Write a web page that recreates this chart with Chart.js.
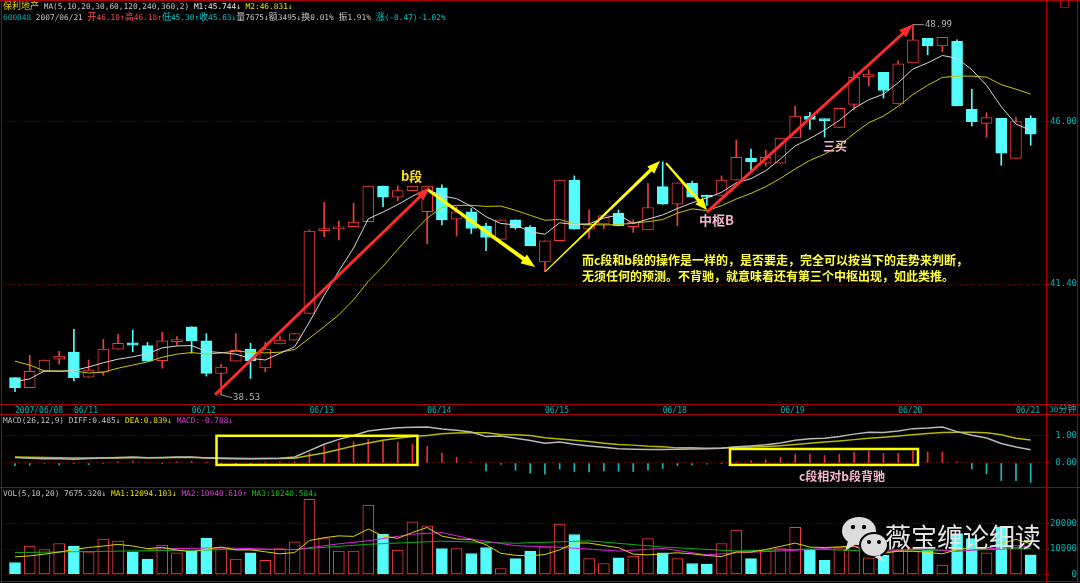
<!DOCTYPE html>
<html>
<head>
<meta charset="utf-8">
<title>保利地产 30分钟</title>
<script src="https://cdn.jsdelivr.net/npm/chart.js@4.4.1/dist/chart.umd.min.js"></script>
<style>
  html, body { margin: 0; padding: 0; background: #000; }
  #wrap { position: relative; width: 1080px; height: 583px; overflow: hidden; background: #000; }
  canvas { position: absolute; left: 0; }
  .hd { position: absolute; left: 3px; font-family: "DejaVu Sans Mono", monospace; font-size: 7.8px; line-height: 11px; white-space: pre; color: #c4c4c4; }
  .hd i { font-style: normal; font-family: "Noto Sans CJK SC", sans-serif; font-size: 9px; }
  .ln { position: absolute; background: #a80000; }
  .note { position: absolute; font-family: "Noto Sans CJK SC", sans-serif; font-weight: 700; white-space: nowrap; }
</style>
</head>
<body>
<div id="wrap">
  <canvas id="mainChart" width="1080" height="414" style="top:0"></canvas>
  <canvas id="macdChart" width="1080" height="73" style="top:414px"></canvas>
  <canvas id="volChart" width="1080" height="96" style="top:487px"></canvas>

  <div class="ln" style="left:0;top:0;width:1080px;height:1px"></div>
  <div class="ln" style="left:1px;top:0;width:1px;height:583px"></div>
  <div class="ln" style="left:0;top:404px;width:1080px;height:1px"></div>
  <div class="ln" style="left:0;top:414px;width:1080px;height:1px"></div>
  <div class="ln" style="left:0;top:487px;width:1080px;height:1px"></div>
  <div class="ln" style="left:0;top:581px;width:1080px;height:1px"></div>
  <div class="ln" style="left:1046px;top:0;width:1px;height:583px"></div>
  <div class="ln" style="left:1077px;top:0;width:1px;height:583px"></div>
  <div style="position:absolute;left:1060px;top:0;width:7px;height:7px;border:1px solid #a80000;border-top:none"></div>

  <div class="hd" style="top:0"><i style="color:#e0d000">保利地产</i> MA(5,10,20,30,60,120,240,360,2) <span style="color:#e8e8e8">M1:45.744↓</span> <span style="color:#e8e000">M2:46.831↓</span></div>
  <div class="hd" style="top:11px"><span style="color:#00a8a8">600048</span> 2007/06/21 <span style="color:#ff4848"><i>开</i>46.10↑<i>高</i>46.18↑</span><span style="color:#00c8c8"><i>低</i>45.30↑<i>收</i>45.63↓</span><i>量</i>7675↓<i>额</i>3495↓<i>换</i>0.01% <i>振</i>1.91% <span style="color:#00c8c8"><i>涨</i>(-0.47)-1.02%</span></div>
  <div class="hd" style="top:415px">MACD(26,12,9) DIFF:0.485↓ <span style="color:#e8e000">DEA:0.839↓</span> <span style="color:#e040e0">MACD:-0.708↓</span></div>
  <div class="hd" style="top:488px">VOL(5,10,20) 7675.320↓ <span style="color:#e8e000">MA1:12094.103↓</span> <span style="color:#e040e0">MA2:10940.610↑</span> <span style="color:#20c020">MA3:10240.584↓</span></div>
  <div class="hd" style="left:1049px;top:404px;line-height:10px;color:#00b4b4">30<i>分钟</i></div>

  <div class="note" style="left:401px;top:169px;font-size:13px;line-height:13px;color:#f8e020">b段</div>
  <div class="note" style="left:699px;top:213px;font-size:13px;line-height:13px;color:#f4b6cc">中枢B</div>
  <div class="note" style="left:823px;top:140px;font-size:12px;line-height:12px;color:#f4b6cc">三买</div>
  <div class="note" style="left:582px;top:254px;font-size:12px;line-height:12px;color:#ffff40">而c段和b段的操作是一样的，是否要走，完全可以按当下的走势来判断，</div>
  <div class="note" style="left:582px;top:270px;font-size:12px;line-height:12px;color:#ffff40">无须任何的预测。不背驰，就意味着还有第三个中枢出现，如此类推。</div>
  <div class="note" style="left:799px;top:470px;font-size:12px;line-height:12px;color:#f4b6cc">c段相对b段背驰</div>

  <svg style="position:absolute;left:840px;top:514px" width="50" height="50">
    <ellipse cx="19" cy="17" rx="17" ry="14" fill="#dcdcdc"/>
    <path d="M8 27 L5 37 L16 30 Z" fill="#dcdcdc"/>
    <circle cx="13" cy="13" r="2.2" fill="#000"/>
    <circle cx="24" cy="13" r="2.2" fill="#000"/>
    <ellipse cx="34" cy="31" rx="14" ry="12" fill="#dcdcdc" stroke="#000" stroke-width="2"/>
    <path d="M40 41 L45 48 L34 43 Z" fill="#dcdcdc"/>
    <circle cx="29" cy="28" r="2" fill="#000"/>
    <circle cx="39" cy="28" r="2" fill="#000"/>
  </svg>
  <div class="note" style="left:885px;top:521px;font-size:26px;line-height:30px;font-weight:400;color:#e6e6e6">薇宝缠论细读</div>
</div>

<script>
// 30-minute bars, 2007/06/08 .. 2007/06/21
const dayTicks = [0, 4, 12, 20, 28, 36, 44, 52, 60, 68];
const dayLabels = ['2007/06/08', '06/11', '06/12', '06/13', '06/14', '06/15', '06/18', '06/19', '06/20', '06/21'];

const opens = [38.96, 38.71, 39.12, 39.43, 39.61, 38.97, 39.10, 39.69, 39.85, 39.78,
  39.39, 39.88, 40.27, 39.90, 39.07, 39.38, 39.69, 39.21, 39.82, 39.92,
  40.62, 42.86, 42.91, 42.97, 43.11, 44.12, 43.80, 43.99, 43.39, 44.07,
  43.18, 43.39, 42.99, 42.62, 43.16, 42.95, 42.00, 42.58, 44.29, 42.90,
  43.05, 43.35, 42.97, 42.88, 44.10, 43.60, 44.20, 43.86, 43.85, 44.29,
  44.92, 44.78, 44.78, 45.52, 46.17, 46.08, 45.83, 46.52, 47.36, 47.50,
  46.53, 47.79, 48.56, 48.32, 48.46, 46.37, 45.95, 46.10, 44.92, 46.10];
const highs = [38.96, 39.53, 39.41, 39.63, 40.20, 39.41, 39.94, 40.07, 40.18, 39.86,
  40.12, 40.01, 40.27, 40.09, 39.30, 40.09, 39.84, 39.86, 40.01, 40.09,
  42.88, 43.65, 43.13, 43.63, 44.12, 44.12, 44.12, 44.12, 44.12, 44.15,
  43.53, 43.48, 43.07, 43.16, 43.16, 43.00, 42.58, 44.29, 44.41, 43.44,
  43.28, 43.44, 43.16, 44.20, 44.82, 44.21, 44.26, 43.86, 44.41, 45.46,
  45.19, 45.16, 45.51, 46.47, 46.28, 46.08, 46.40, 47.52, 47.57, 47.50,
  47.85, 48.99, 48.56, 48.59, 48.51, 46.98, 46.27, 46.10, 46.13, 46.18];
const lows = [38.61, 38.71, 39.12, 39.30, 38.88, 38.97, 39.02, 39.69, 39.62, 39.38,
  39.20, 39.79, 39.58, 39.00, 38.53, 39.38, 38.94, 39.11, 39.82, 39.92,
  40.62, 42.69, 42.60, 42.97, 43.11, 43.53, 43.70, 43.99, 42.49, 43.02,
  42.71, 42.78, 42.31, 42.62, 42.90, 42.44, 41.74, 42.58, 42.90, 42.65,
  42.92, 42.99, 42.81, 42.88, 43.60, 42.99, 43.80, 43.57, 43.85, 44.29,
  44.55, 44.69, 44.78, 45.52, 45.77, 45.54, 45.83, 46.35, 47.08, 46.71,
  46.53, 47.79, 48.04, 48.14, 46.47, 45.87, 45.54, 44.72, 44.92, 45.30];
const closes = [38.71, 39.12, 39.41, 39.51, 38.96, 39.15, 39.69, 39.84, 39.79, 39.38,
  39.90, 39.92, 39.90, 39.07, 39.23, 39.66, 39.39, 39.69, 39.92, 40.09,
  42.85, 42.92, 42.95, 43.10, 44.12, 43.80, 43.99, 44.12, 44.12, 43.16,
  43.39, 42.92, 42.67, 43.16, 42.94, 42.44, 42.58, 44.29, 42.90, 43.02,
  43.28, 42.99, 43.10, 43.51, 43.60, 44.21, 43.80, 43.80, 44.29, 44.95,
  44.82, 44.95, 45.51, 46.17, 46.07, 46.03, 46.40, 47.34, 47.44, 46.94,
  47.76, 48.51, 48.32, 48.59, 46.47, 46.00, 46.12, 45.07, 46.00, 45.63];

const ma5 = [38.86, 38.93, 39.13, 39.12, 39.14, 39.23, 39.34, 39.43, 39.49, 39.57,
  39.72, 39.77, 39.78, 39.63, 39.60, 39.56, 39.45, 39.41, 39.58, 39.75,
  40.39, 41.09, 41.75, 42.38, 43.19, 43.38, 43.59, 43.83, 44.03, 43.84,
  43.76, 43.54, 43.25, 43.06, 43.02, 42.83, 42.76, 43.08, 43.03, 43.05,
  43.21, 43.30, 43.06, 43.18, 43.30, 43.48, 43.64, 43.78, 43.94, 44.21,
  44.33, 44.56, 44.90, 45.28, 45.50, 45.75, 46.04, 46.40, 46.66, 46.83,
  47.18, 47.60, 47.79, 48.02, 47.93, 47.58, 47.10, 46.45, 45.93, 45.74];
const ma10 = [39.38, 39.28, 39.13, 39.13, 39.13, 39.08, 39.10, 39.20, 39.28, 39.36,
  39.48, 39.56, 39.60, 39.56, 39.59, 39.64, 39.61, 39.59, 39.61, 39.68,
  39.97, 40.27, 40.58, 40.98, 41.47, 41.88, 42.34, 42.79, 43.21, 43.51,
  43.57, 43.57, 43.54, 43.55, 43.43, 43.29, 43.15, 43.17, 43.05, 43.03,
  43.02, 43.03, 43.07, 43.11, 43.17, 43.35, 43.47, 43.42, 43.56, 43.75,
  43.91, 44.10, 44.34, 44.61, 44.86, 45.04, 45.30, 45.65, 45.97, 46.17,
  46.46, 46.82, 47.10, 47.34, 47.38, 47.38, 47.35, 47.12, 46.98, 46.83];
const priceTicks = [41.40, 46.00];

const diff = [0.20, 0.17, 0.15, 0.15, 0.14, 0.16, 0.18, 0.20, 0.22, 0.19,
  0.20, 0.22, 0.22, 0.18, 0.16, 0.15, 0.15, 0.16, 0.17, 0.22,
  0.45, 0.68, 0.86, 1.00, 1.16, 1.23, 1.28, 1.30, 1.31, 1.24,
  1.19, 1.13, 0.96, 0.98, 0.90, 0.82, 0.72, 0.76, 0.68, 0.62,
  0.57, 0.52, 0.50, 0.49, 0.49, 0.50, 0.51, 0.52, 0.54, 0.59,
  0.62, 0.66, 0.73, 0.83, 0.88, 0.90, 0.96, 1.05, 1.12, 1.11,
  1.16, 1.25, 1.27, 1.31, 1.14, 1.01, 0.91, 0.71, 0.58, 0.485];
const dea = [0.22, 0.21, 0.20, 0.19, 0.18, 0.18, 0.18, 0.18, 0.19, 0.19,
  0.19, 0.20, 0.20, 0.19, 0.18, 0.17, 0.16, 0.16, 0.16, 0.17,
  0.27, 0.36, 0.49, 0.62, 0.73, 0.83, 0.90, 0.96, 1.00, 1.06,
  1.09, 1.10, 1.10, 1.04, 1.03, 1.00, 0.92, 0.87, 0.83, 0.78,
  0.72, 0.67, 0.65, 0.61, 0.59, 0.55, 0.55, 0.54, 0.545, 0.57,
  0.58, 0.60, 0.63, 0.67, 0.72, 0.76, 0.80, 0.85, 0.90, 0.94,
  0.98, 1.03, 1.07, 1.11, 1.12, 1.12, 1.10, 1.03, 0.90, 0.839];
const macd = [-0.10, -0.08, -0.02, -0.07, -0.02, -0.06, -0.02, 0.05, 0.07, 0.02,
  -0.01, 0.04, 0.06, 0.03, -0.02, -0.03, -0.01, 0.02, 0.03, 0.05,
  0.36, 0.63, 0.74, 0.77, 0.86, 0.80, 0.76, 0.69, 0.61, 0.36,
  0.21, 0.03, -0.29, -0.05, -0.26, -0.37, -0.41, -0.22, -0.31, -0.32,
  -0.29, -0.30, -0.31, -0.25, -0.20, -0.10, -0.07, -0.04, -0.01, 0.04,
  0.09, 0.12, 0.21, 0.32, 0.32, 0.27, 0.32, 0.40, 0.44, 0.34,
  0.36, 0.44, 0.40, 0.40, 0.04, -0.22, -0.39, -0.64, -0.64, -0.708];
const macdTicks = [0, 1];

const volumes = [4700, 11100, 9800, 12150, 11100, 8900, 13850, 13070, 8900, 6000,
  11500, 8500, 9400, 14250, 10200, 6000, 8500, 5600, 10200, 12800,
  29500, 14100, 9150, 9150, 27200, 15800, 9550, 20650, 19100, 10200,
  10200, 8250, 10600, 2350, 6250, 9150, 10850, 19750, 15700, 6250,
  4300, 6550, 7200, 14100, 8500, 6250, 4300, 4050, 12150, 17400,
  6250, 9150, 10200, 18500, 9550, 5600, 10200, 11800, 6550, 7600,
  9500, 10200, 9550, 3650, 16000, 14100, 8500, 18700, 11500, 7675];
const volMa5 = [6900, 7300, 8000, 8800, 9770, 10610, 11160, 11810, 11160, 10140,
  10660, 9590, 8860, 9930, 10770, 9670, 9670, 8910, 8100, 8620,
  13320, 14440, 15150, 14940, 17830, 15080, 14170, 16470, 18460, 15060,
  13940, 13680, 11670, 8320, 7530, 7320, 7840, 9670, 12340, 12340,
  11370, 10510, 8000, 7680, 8130, 8520, 8070, 7440, 7050, 8830,
  8830, 9800, 11030, 12300, 10730, 10600, 10810, 11130, 8740, 8350,
  9130, 9130, 8680, 8100, 9780, 10700, 10360, 12190, 13760, 12094];
const volMa10Idx = [9, 14, 19, 22, 24, 27, 29, 31, 34, 37, 39, 41, 44, 47, 49, 52, 54, 57, 59, 62, 64, 67, 69];
const volMa10 = [9960, 10460, 9700, 12030, 13220, 15810, 16440, 13930, 11300, 10670, 9940, 9180, 10240, 7720, 8480, 9240, 9780, 11080, 9540, 9910, 9070, 10440, 10940];
const volMa20Idx = [0, 5, 10, 14, 19, 24, 29, 34, 39, 44, 49, 54, 59, 64, 69];
const volMa20 = [8600, 9000, 9400, 9700, 9830, 11840, 13070, 12260, 13190, 10770, 9210, 10010, 9010, 9420, 10240];
const volTicks = [0, 10000, 20000];

// annotations, in bar index / value units
const arrows = [
  { from: [13.59, 38.53], to: [28.19, 44.09], color: '#ff2a2a', w0: 3, w1: 3, head: 14, headW: 10 },
  { from: [47.0, 43.38], to: [61.0, 49.0], color: '#ff2a2a', w0: 3, w1: 3, head: 14, headW: 10 },
  { from: [28.06, 44.01], to: [35.33, 41.86], color: '#ffff00', w0: 3, w1: 4, head: 14, headW: 11 },
  { from: [36.0, 41.73], to: [43.82, 44.84], color: '#ffff00', w0: 1, w1: 3.5, head: 13, headW: 10 },
  { from: [44.23, 44.78], to: [47.01, 43.44], color: '#ffff00', w0: 2, w1: 3.5, head: 12, headW: 10 }
];
const extremes = [{ i: 61, value: 48.99, dy: 0 }, { i: 14, value: 38.53, dy: 3 }];
const macdBoxes = [
  { x0: 13.69, x1: 27.34, top: 0.99, bottom: -0.07 },
  { x0: 48.57, x1: 61.34, top: 0.51, bottom: -0.07 }
];

const RED = '#f03c3c';
const CYAN = '#54fcfc';
const AXIS_RED = '#b40000';
const GRID_RED = '#7a0000';
const LABEL_CYAN = '#00b4b4';
const X_MIN = -0.815;
const X_MAX = 70.04;

const idx = closes.map((_, i) => i);
const isUp = idx.map(i => closes[i] >= opens[i]);

function pts(xs, ys) {
  return xs.map((x, k) => ({ x, y: ys[k] }));
}

function hiddenX() {
  return { type: 'linear', min: X_MIN, max: X_MAX, offset: false, display: false };
}

function rightAxis(type, min, max, ticks, fmt) {
  return {
    type, position: 'right', min, max,
    afterBuildTicks: s => { s.ticks = ticks.map(v => ({ value: v })); },
    afterFit: s => { s.width = 31; s.paddingTop = 0; s.paddingBottom = 0; },
    grid: { color: GRID_RED, tickColor: AXIS_RED, tickLength: 3 },
    border: { color: AXIS_RED, dash: [1, 2] },
    ticks: {
      color: LABEL_CYAN, padding: 0, crossAlign: 'far',
      font: { family: 'DejaVu Sans Mono', size: 9 },
      callback: fmt
    }
  };
}

function baseOptions(scales, bottom) {
  return {
    responsive: false,
    animation: false,
    events: [],
    layout: { padding: { left: 3, right: 3, top: 0, bottom: bottom || 0 } },
    plugins: { legend: { display: false }, tooltip: { enabled: false } },
    scales
  };
}

function drawArrow(ctx, x0, y0, x1, y1, a) {
  const ang = Math.atan2(y1 - y0, x1 - x0);
  const len = Math.hypot(x1 - x0, y1 - y0);
  ctx.save();
  ctx.translate(x0, y0);
  ctx.rotate(ang);
  ctx.fillStyle = a.color;
  ctx.beginPath();
  ctx.moveTo(0, -a.w0 / 2);
  ctx.lineTo(len - a.head, -a.w1 / 2);
  ctx.lineTo(len - a.head, -a.headW / 2);
  ctx.lineTo(len, 0);
  ctx.lineTo(len - a.head, a.headW / 2);
  ctx.lineTo(len - a.head, a.w1 / 2);
  ctx.lineTo(0, a.w0 / 2);
  ctx.closePath();
  ctx.fill();
  ctx.restore();
}

const mainMarks = {
  id: 'mainMarks',
  afterDatasetsDraw(chart) {
    const { ctx, scales: { x, y } } = chart;
    arrows.forEach(a => {
      drawArrow(ctx, x.getPixelForValue(a.from[0]), y.getPixelForValue(a.from[1]),
        x.getPixelForValue(a.to[0]), y.getPixelForValue(a.to[1]), a);
    });
    ctx.save();
    ctx.strokeStyle = '#9a9a9a';
    ctx.fillStyle = '#b4b4b4';
    ctx.lineWidth = 1;
    ctx.font = '9px "DejaVu Sans Mono"';
    ctx.textBaseline = 'middle';
    extremes.forEach(m => {
      const px = x.getPixelForValue(m.i);
      const py = y.getPixelForValue(m.value);
      ctx.beginPath();
      ctx.moveTo(px, py);
      ctx.lineTo(px + 11, py + m.dy);
      ctx.stroke();
      ctx.fillText(m.value.toFixed(2), px + 12, py + m.dy);
    });
    ctx.restore();
  }
};

const macdMarks = {
  id: 'macdMarks',
  afterDatasetsDraw(chart) {
    const { ctx, scales: { x, y } } = chart;
    ctx.save();
    ctx.strokeStyle = '#ffff00';
    ctx.lineWidth = 2.5;
    macdBoxes.forEach(b => {
      const l = x.getPixelForValue(b.x0);
      const r = x.getPixelForValue(b.x1);
      const t = y.getPixelForValue(b.top);
      const bt = y.getPixelForValue(b.bottom);
      ctx.strokeRect(l, t, r - l, bt - t);
    });
    ctx.restore();
  }
};

function renderMain() {
  const ctx = document.getElementById('mainChart');
  new Chart(ctx, {
    type: 'bar',
    data: {
      datasets: [
        { type: 'line', data: pts(idx, ma5), borderColor: '#d8d8d8', borderWidth: 1, pointRadius: 0, order: 0 },
        { type: 'line', data: pts(idx, ma10), borderColor: '#c8c800', borderWidth: 1, pointRadius: 0, order: 0 },
        {
          data: idx.map(i => ({ x: i, y: [opens[i], closes[i]] })),
          backgroundColor: idx.map(i => isUp[i] ? '#000' : CYAN),
          borderColor: idx.map(i => isUp[i] ? RED : CYAN),
          borderWidth: 1, borderSkipped: false, barThickness: 11, minBarLength: 2,
          grouped: false, order: 1
        },
        {
          data: idx.map(i => ({ x: i, y: [lows[i], highs[i]] })),
          backgroundColor: idx.map(i => isUp[i] ? RED : CYAN),
          barThickness: 1, grouped: false, order: 2
        }
      ]
    },
    options: baseOptions({
      x: {
        type: 'linear', min: X_MIN, max: X_MAX, position: 'bottom', offset: false,
        afterBuildTicks: s => { s.ticks = dayTicks.map(v => ({ value: v })); },
        afterFit: s => { s.height = 10; s.paddingLeft = 0; s.paddingRight = 0; },
        grid: { offset: false, drawOnChartArea: false, tickLength: 2, color: AXIS_RED, tickColor: AXIS_RED },
        border: { color: AXIS_RED },
        ticks: {
          autoSkip: false, maxRotation: 0, align: 'start', padding: 0,
          color: LABEL_CYAN, font: { family: 'DejaVu Sans Mono', size: 8 },
          callback: (v, k) => dayLabels[k]
        }
      },
      y: rightAxis('logarithmic', 38.30, 49.78, priceTicks, v => v.toFixed(2))
    }),
    plugins: [mainMarks]
  });
}

function renderMacd() {
  const ctx = document.getElementById('macdChart');
  new Chart(ctx, {
    type: 'bar',
    data: {
      datasets: [
        { type: 'line', data: pts(idx, diff), borderColor: '#b8b8b8', borderWidth: 1.5, pointRadius: 0, order: 0 },
        { type: 'line', data: pts(idx, dea), borderColor: '#b8b800', borderWidth: 1.5, pointRadius: 0, order: 0 },
        {
          data: pts(idx, macd),
          backgroundColor: macd.map(v => v >= 0 ? '#e03232' : '#1cb8b8'),
          barThickness: 1, grouped: false, order: 1
        }
      ]
    },
    options: baseOptions({
      x: hiddenX(),
      y: rightAxis('linear', -0.873, 1.782, macdTicks, v => v.toFixed(2))
    }),
    plugins: [macdMarks]
  });
}

function renderVolume() {
  const ctx = document.getElementById('volChart');
  new Chart(ctx, {
    type: 'bar',
    data: {
      datasets: [
        { type: 'line', data: pts(idx, volMa5), borderColor: '#d8d800', borderWidth: 1, pointRadius: 0, order: 0 },
        { type: 'line', data: pts(volMa10Idx, volMa10), borderColor: '#e020e0', borderWidth: 1, pointRadius: 0, order: 0 },
        { type: 'line', data: pts(volMa20Idx, volMa20), borderColor: '#10b010', borderWidth: 1, pointRadius: 0, order: 0 },
        {
          data: pts(idx, volumes),
          backgroundColor: idx.map(i => isUp[i] ? '#000' : CYAN),
          borderColor: idx.map(i => isUp[i] ? RED : CYAN),
          borderWidth: 1, borderSkipped: false, barThickness: 11,
          grouped: false, order: 1
        }
      ]
    },
    options: baseOptions({
      x: hiddenX(),
      y: rightAxis('linear', -2549, 34314, volTicks, v => String(v))
    }, 2)
  });
}

document.addEventListener('DOMContentLoaded', () => {
  renderMain();
  renderMacd();
  renderVolume();
});
</script>
</body>
</html>
